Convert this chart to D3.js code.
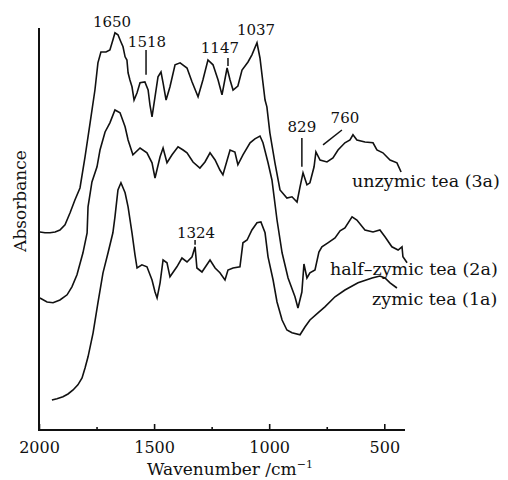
<!DOCTYPE html>
<html>
<head>
<meta charset="utf-8">
<script src="https://cdn.jsdelivr.net/npm/d3@7"></script>
<style>
  body { margin: 0; background: #fff; }
  text { font-family: "DejaVu Serif", serif; fill: #111; }
</style>
</head>
<body>
<svg id="chart" width="508" height="480"></svg>
<script>
// wavenumber (cm-1) and absorbance (a.u.)
const wn3a = [1996,1974,1952,1930,1909,1887,1865,1844,1822,1800,1778,1757,1744,1731,1709,1692,1679,1670,1657,1644,1635,1626,1618,1613,1605,1596,1587,1574,1561,1540,1526,1518,1509,1496,1483,1470,1461,1448,1431,1409,1387,1357,1335,1309,1288,1266,1244,1222,1205,1183,1170,1157,1136,1118,1092,1075,1053,1040,1027,1018,1010,997,975,953,923,901,879,866,853,836,823,805,797,779,749,723,701,671,649,636,619,584,549,532,506,475,445,427];
const ab3a = [49.5,49.3,49.3,49.5,50.0,51.3,54.3,57.5,60.5,68.3,76.8,85.0,91.8,94.5,94.5,95.0,97.5,99.3,98.8,97.0,95.8,93.3,92.5,89.3,87.5,85.8,82.5,84.3,86.8,87.0,85.0,81.3,78.3,83.3,88.3,89.5,86.8,82.5,85.8,91.3,91.8,90.5,87.0,83.3,87.5,92.5,91.3,87.5,83.8,90.5,87.5,85.0,86.0,90.0,92.0,93.8,96.8,93.0,86.8,82.5,80.8,74.3,66.8,60.0,58.0,58.3,57.0,60.8,64.3,61.3,61.8,65.8,69.5,67.5,67.0,68.0,70.0,71.8,72.5,73.8,72.5,72.0,71.8,70.0,69.3,67.5,66.8,64.5];

const wn2a = [1996,1965,1939,1909,1878,1857,1835,1809,1791,1787,1770,1748,1735,1713,1692,1670,1648,1626,1613,1592,1561,1531,1509,1496,1474,1461,1444,1422,1396,1374,1357,1331,1301,1279,1257,1235,1214,1201,1170,1149,1136,1114,1083,1062,1040,1027,1005,988,966,944,918,888,875,858,849,836,823,801,784,771,745,714,692,671,640,619,584,549,519,497,467,440,423,419,401];
const ab2a = [33.0,32.0,31.8,32.5,33.8,35.8,38.8,44.3,49.3,55.8,62.0,65.8,70.0,74.5,76.8,80.0,79.3,75.8,72.5,68.8,70.5,69.3,66.8,63.0,68.3,70.5,66.8,68.8,70.8,70.0,69.3,67.0,65.5,67.0,69.3,67.5,65.0,63.8,70.0,69.5,66.3,68.8,71.8,72.8,73.5,71.8,66.8,62.5,52.5,44.3,38.0,33.3,30.5,34.5,41.5,38.0,39.3,40.0,44.5,45.8,46.8,48.0,49.8,50.5,53.3,52.5,50.0,49.5,50.0,48.3,45.8,45.0,45.8,43.3,41.8];

const wn1a = [1944,1922,1896,1874,1852,1831,1813,1800,1787,1765,1744,1722,1700,1679,1670,1657,1644,1626,1613,1596,1583,1574,1553,1531,1509,1496,1487,1474,1461,1444,1431,1401,1379,1357,1335,1322,1314,1292,1257,1235,1214,1192,1179,1157,1127,1114,1096,1075,1053,1036,1018,1005,983,966,944,923,901,866,844,823,788,758,714,671,614,553,519,497,475,445];
const ab1a = [7.5,7.8,8.3,9.0,10.0,11.3,13.0,15.5,18.3,24.3,31.8,39.3,44.3,49.3,53.3,60.0,61.8,59.3,55.8,49.3,43.8,40.5,41.3,40.8,37.5,34.5,33.0,36.8,42.5,41.8,38.3,40.8,43.0,42.0,43.3,45.8,40.5,39.5,42.5,40.5,39.3,37.5,40.0,40.5,40.8,46.8,47.5,50.0,51.8,52.0,49.3,43.3,37.5,32.0,27.5,25.0,24.3,23.8,25.8,27.5,29.3,30.8,33.3,35.0,36.8,38.0,38.5,38.0,36.8,35.5];

const seriesNames = ["unzymic tea (3a)", "half\u2013zymic tea (2a)", "zymic tea (1a)"];
const seriesLabelAt = [[640, 60.8], [736, 38.8], [553, 31.3]];

const peakNames = ["1650", "1518", "1147", "1037", "829", "760", "1324"];
const peakTextAt = [[1683, 100.8], [1531, 95.8], [1214, 94.3], [1057, 98.8], [858, 74.5], [671, 76.8], [1318, 48]];
// marker lines: [wn0, ab0, wn1, ab1]
const peakLines = [null, [1535, 95, 1535, 88.8], [1179, 93, 1179, 91], null, [858, 73, 858, 65.8], [684, 75, 766, 71.3], [1322, 47.5, 1322, 46.3]];

const majorTicks = [2000, 1500, 1000, 500];
const minorTicks = [1750, 1250, 750];

const svg = d3.select("#chart");

const x = d3.scaleLinear().domain([2000, 410]).range([39, 405]);
const y = d3.scaleLinear().domain([0, 100.5]).range([430, 28]);

const line = d3.line()
  .x(d => x(d[0]))
  .y(d => y(d[1]));

const series = [
  d3.zip(wn3a, ab3a),
  d3.zip(wn2a, ab2a),
  d3.zip(wn1a, ab1a)
];

svg.selectAll(".spec")
  .data(series)
  .enter().append("path")
  .attr("class", "spec")
  .attr("fill", "none")
  .attr("stroke", "#111")
  .attr("stroke-width", 1.6)
  .attr("stroke-linejoin", "miter")
  .attr("d", line);

// Axes
const gx = svg.append("g")
  .attr("transform", `translate(0,${y(0)})`)
  .call(d3.axisBottom(x).tickValues(majorTicks).tickSize(-6).tickFormat(d3.format("d")));
gx.select(".domain").remove();
gx.selectAll(".tick line").attr("stroke", "#111").attr("stroke-width", 1.6);
gx.selectAll(".tick text")
  .attr("y", 23).attr("dy", 0)
  .attr("font-size", 16)
  .attr("font-family", "DejaVu Serif, serif")
  .attr("fill", "#111");

svg.append("g")
  .attr("transform", `translate(0,${y(0)})`)
  .call(d3.axisBottom(x).tickValues(minorTicks).tickSize(-3).tickFormat(""))
  .call(g => g.select(".domain").remove())
  .selectAll(".tick line").attr("stroke", "#111").attr("stroke-width", 1.6);

svg.append("line")
  .attr("x1", x(2000)).attr("x2", x(410))
  .attr("y1", y(0)).attr("y2", y(0))
  .attr("stroke", "#111").attr("stroke-width", 2);

svg.append("line")
  .attr("x1", x(2000)).attr("x2", x(2000))
  .attr("y1", y(0) + 1).attr("y2", y(100.5))
  .attr("stroke", "#111").attr("stroke-width", 2);

// Axis labels
const xt = svg.append("text")
  .attr("x", 230).attr("y", 475)
  .attr("text-anchor", "middle")
  .attr("font-size", 17)
  .text("Wavenumber /cm");
xt.append("tspan")
  .attr("font-size", 11)
  .attr("dy", -7)
  .text("\u22121");

svg.append("text")
  .attr("text-anchor", "middle")
  .attr("font-size", 17)
  .attr("transform", "translate(26,201) rotate(-90)")
  .text("Absorbance");

// Series labels
svg.selectAll(".slabel")
  .data(seriesNames)
  .enter().append("text")
  .attr("class", "slabel")
  .attr("x", (d, i) => x(seriesLabelAt[i][0]))
  .attr("y", (d, i) => y(seriesLabelAt[i][1]))
  .attr("font-size", 17.5)
  .text(d => d);

// Peak annotations
svg.selectAll(".plabel")
  .data(peakNames)
  .enter().append("text")
  .attr("class", "plabel")
  .attr("x", (d, i) => x(peakTextAt[i][0]))
  .attr("y", (d, i) => y(peakTextAt[i][1]))
  .attr("text-anchor", "middle")
  .attr("font-size", 15)
  .text(d => d);

svg.selectAll(".pline")
  .data(peakLines.filter(d => d))
  .enter().append("line")
  .attr("class", "pline")
  .attr("x1", d => x(d[0])).attr("y1", d => y(d[1]))
  .attr("x2", d => x(d[2])).attr("y2", d => y(d[3]))
  .attr("stroke", "#111")
  .attr("stroke-width", 1.5);
</script>
</body>
</html>
